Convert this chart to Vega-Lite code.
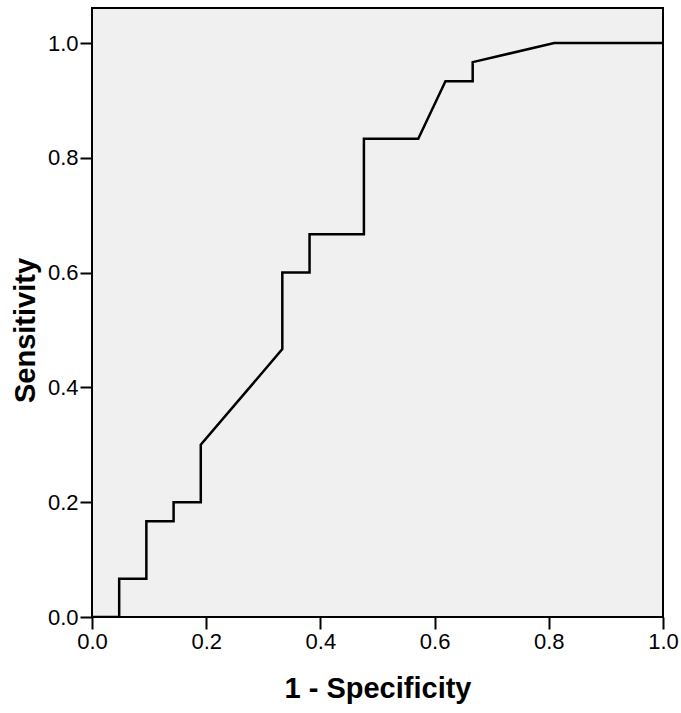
{
  "$schema": "https://vega.github.io/schema/vega-lite/v6.json",
  "width": 571,
  "height": 609,
  "autosize": {"type": "none"},
  "padding": {"left": 92, "top": 8, "right": 18, "bottom": 96},
  "background": "white",
  "config": {
    "view": {"fill": "#f0f0f0", "stroke": "#000000", "strokeWidth": 2},
    "axis": {
      "domain": false,
      "grid": false,
      "ticks": true,
      "tickColor": "#000000",
      "tickWidth": 2,
      "tickSize": 12,
      "labelFont": "Liberation Sans",
      "labelFontSize": 22,
      "labelColor": "#000000",
      "labelPadding": 2,
      "labelFlush": false,
      "titleFont": "Liberation Sans",
      "titleFontWeight": "bold",
      "titleFontSize": 29,
      "titleColor": "#000000"
    }
  },
  "data": {
    "values": [
      {"order": 0, "fpr": 0.0, "tpr": 0.0},
      {"order": 1, "fpr": 0.0476, "tpr": 0.0},
      {"order": 2, "fpr": 0.0476, "tpr": 0.0667},
      {"order": 3, "fpr": 0.0952, "tpr": 0.0667},
      {"order": 4, "fpr": 0.0952, "tpr": 0.1667},
      {"order": 5, "fpr": 0.1429, "tpr": 0.1667},
      {"order": 6, "fpr": 0.1429, "tpr": 0.2},
      {"order": 7, "fpr": 0.1905, "tpr": 0.2},
      {"order": 8, "fpr": 0.1905, "tpr": 0.3},
      {"order": 9, "fpr": 0.3333, "tpr": 0.4667},
      {"order": 10, "fpr": 0.3333, "tpr": 0.6},
      {"order": 11, "fpr": 0.381, "tpr": 0.6},
      {"order": 12, "fpr": 0.381, "tpr": 0.6667},
      {"order": 13, "fpr": 0.4762, "tpr": 0.6667},
      {"order": 14, "fpr": 0.4762, "tpr": 0.8333},
      {"order": 15, "fpr": 0.5714, "tpr": 0.8333},
      {"order": 16, "fpr": 0.619, "tpr": 0.9333},
      {"order": 17, "fpr": 0.6667, "tpr": 0.9333},
      {"order": 18, "fpr": 0.6667, "tpr": 0.9667},
      {"order": 19, "fpr": 0.8095, "tpr": 1.0},
      {"order": 20, "fpr": 1.0, "tpr": 1.0}
    ]
  },
  "mark": {"type": "line", "color": "#000000", "strokeWidth": 2.5, "clip": true},
  "encoding": {
    "x": {
      "field": "fpr",
      "type": "quantitative",
      "title": "1 - Specificity",
      "scale": {"domain": [0, 1], "nice": false, "zero": false},
      "axis": {"values": [0, 0.2, 0.4, 0.6, 0.8, 1.0], "format": ".1f", "titlePadding": 22}
    },
    "y": {
      "field": "tpr",
      "type": "quantitative",
      "title": "Sensitivity",
      "scale": {"domain": [0, 1.061], "nice": false, "zero": false},
      "axis": {
        "values": [0, 0.2, 0.4, 0.6, 0.8, 1.0],
        "format": ".1f",
        "titleX": -58,
        "titleY": 322,
        "titleBaseline": "alphabetic",
        "titleAlign": "center",
        "titleAngle": -90
      }
    },
    "order": {"field": "order", "type": "quantitative"}
  }
}
